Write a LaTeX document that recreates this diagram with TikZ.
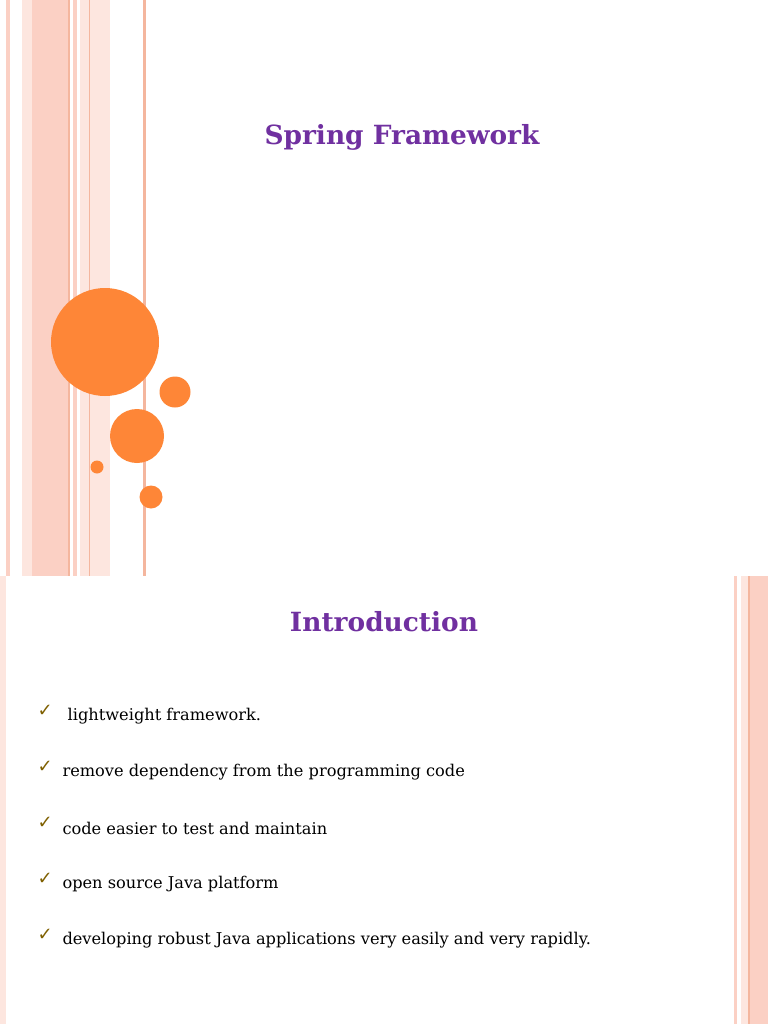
\documentclass[tikz,border=0pt]{standalone}
\usepackage{fontspec}
\setmainfont{DejaVu Serif}
\newfontfamily\symf{DejaVu Sans}
\definecolor{pk}{HTML}{FBD0C4}
\definecolor{pkl}{HTML}{FDE6DF}
\definecolor{pkd}{HTML}{F4B69E}
\definecolor{org}{HTML}{FE8637}
\definecolor{ttl}{HTML}{7030A0}
\definecolor{chk}{HTML}{7F6000}
\begin{document}
\begin{tikzpicture}[x=1pt,y=-1pt,
  ttlstyle/.style={font=\bfseries\fontsize{26.4}{30}\selectfont, text=ttl},
  item/.style={anchor=west, font=\fontsize{16.2}{19}\selectfont},
  tick/.style={anchor=west, text=chk, font=\symf\bfseries\fontsize{18}{20}\selectfont}]
\useasboundingbox (0,0) rectangle (768,1024);
\fill[white] (0,0) rectangle (768,1024);
% top slide stripes
\fill[pk] (6,0) rectangle (10,576);
\fill[pkl] (22,0) rectangle (32,576);
\fill[pk] (32,0) rectangle (68,576);
\fill[pkd] (68,0) rectangle (70,576);
\fill[pk] (73,0) rectangle (77,576);
\fill[pkl] (80,0) rectangle (110,576);
\fill[pkd] (89,0) rectangle (90,576);
\fill[pkl] (100,0) rectangle (106,576);
\fill[pkd] (143,0) rectangle (146,576);
% circles
\fill[org] (105,342) circle (54);
\fill[org] (175,392) circle (15.5);
\fill[org] (137,436) circle (27);
\fill[org] (97,467) circle (6.5);
\fill[org] (151,497) circle (11.5);
\node[ttlstyle] (t1) at (402,137) {Spring Framework};
% bottom slide stripes
\fill[pkl] (0,576) rectangle (6,1024);
\fill[pk] (734,576) rectangle (737,1024);
\fill[pkl] (741,576) rectangle (749,1024);
\fill[pkd] (748,576) rectangle (750,1024);
\fill[pk] (750,576) rectangle (768,1024);
\node[ttlstyle] (t2) at (384,622) {Introduction};
\foreach \y/\t [count=\i] in {716/{\ lightweight framework.},772/{remove dependency from the programming code},828/{code easier to test and maintain},884/{open source Java platform},940/{developing robust Java applications very easily and very rapidly.}}{
  \node[tick] (c\i) at (34,\y-5) {✓};
  \node[item] (b\i) at (59,\y) {\t};
}
\end{tikzpicture}
\end{document}
